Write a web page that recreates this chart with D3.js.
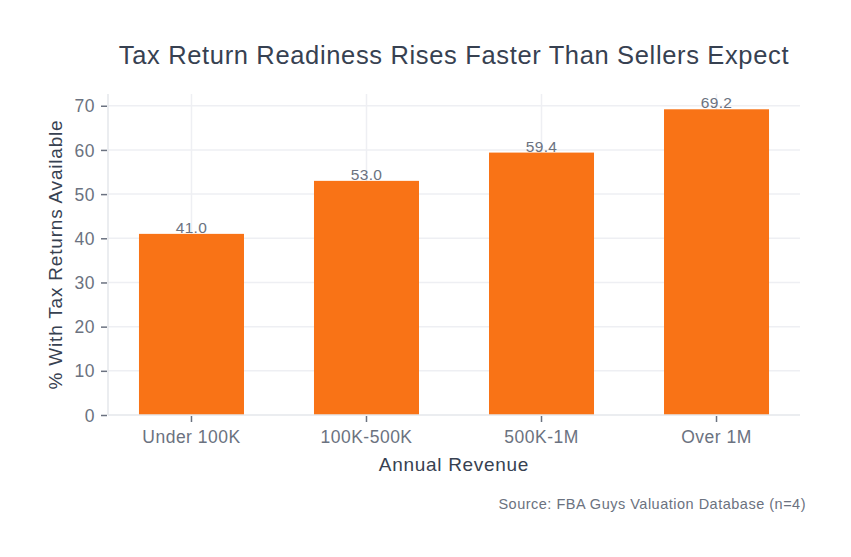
<!DOCTYPE html>
<html>
<head>
<meta charset="utf-8">
<script src="https://cdn.jsdelivr.net/npm/d3@7"></script>
<style>
  html, body { margin: 0; padding: 0; background: #fff; }
  svg { display: block; font-family: "Liberation Sans", Arial, Helvetica, sans-serif; }
</style>
</head>
<body>
<svg id="chart" width="851" height="557"></svg>
<script>
const categories = ["Under 100K", "100K-500K", "500K-1M", "Over 1M"];
const values = [41.0, 53.0, 59.4, 69.2];
const yTicks = [0, 10, 20, 30, 40, 50, 60, 70];
const titleText = "Tax Return Readiness Rises Faster Than Sellers Expect";
const xTitle = "Annual Revenue";
const yTitle = "% With Tax Returns Available";
const sourceText = "Source: FBA Guys Valuation Database (n=4)";

const svg = d3.select("#chart");
const W = 851, H = 557;
const m = { left: 108, right: 51, top: 94, bottom: 142 };
const x0 = m.left, x1 = W - m.right, y0 = H - m.bottom, y1 = m.top;

const x = d3.scaleBand().domain(categories).range([x0, x1]).paddingInner(0.4).paddingOuter(0.177);
const y = d3.scaleLinear().domain([0, d3.max(values) * 1.05]).range([y0, y1]);

const grid = "#eeeff3";
svg.append("g").selectAll("line").data(yTicks.filter(t => t > 0)).join("line")
  .attr("x1", x0).attr("x2", x1)
  .attr("y1", d => y(d)).attr("y2", d => y(d))
  .attr("stroke", grid).attr("stroke-width", 1.5);
svg.append("g").selectAll("line").data(categories).join("line")
  .attr("x1", d => x(d) + x.bandwidth() / 2).attr("x2", d => x(d) + x.bandwidth() / 2)
  .attr("y1", y1).attr("y2", y0)
  .attr("stroke", grid).attr("stroke-width", 1.5);

svg.append("g").selectAll("rect").data(values).join("rect")
  .attr("x", (d, i) => x(categories[i]))
  .attr("width", x.bandwidth())
  .attr("y", d => y(d))
  .attr("height", d => y(0) - y(d))
  .attr("fill", "#f97316");

svg.append("g").selectAll("text").data(values).join("text")
  .attr("x", (d, i) => x(categories[i]) + x.bandwidth() / 2)
  .attr("y", d => y(d) - 1)
  .attr("text-anchor", "middle")
  .attr("font-size", 15.5)
  .attr("letter-spacing", 0.3)
  .attr("fill", "#6b7280")
  .text(d => d.toFixed(1));

const yAxis = svg.append("g").attr("transform", `translate(${x0},0)`)
  .call(d3.axisLeft(y).tickValues(yTicks).tickSize(7).tickPadding(6).tickFormat(d3.format("d")));
yAxis.select(".domain").attr("stroke", "#e5e7eb").attr("stroke-width", 1.5).attr("d", `M0,${y1}V${y0}`);
yAxis.selectAll(".tick line").attr("stroke", "#6b7280").attr("stroke-width", 1.5).attr("x1", -1);
yAxis.selectAll(".tick text").attr("font-size", 17.5).attr("letter-spacing", 0.5).attr("fill", "#6b7280")
  .attr("font-family", "Liberation Sans, Arial, sans-serif").attr("dy", "0.35em");

const xAxis = svg.append("g").attr("transform", `translate(0,${y0})`)
  .call(d3.axisBottom(x).tickSize(7).tickPadding(9));
xAxis.select(".domain").attr("stroke", "#e5e7eb").attr("stroke-width", 1.5).attr("d", `M${x0},0H${x1}`);
xAxis.selectAll(".tick line").attr("stroke", "#6b7280").attr("stroke-width", 1.5).attr("y1", 1);
xAxis.selectAll(".tick text").attr("font-size", 17.5).attr("letter-spacing", 0.5).attr("fill", "#6b7280")
  .attr("font-family", "Liberation Sans, Arial, sans-serif");

svg.append("text").attr("x", (x0 + x1) / 2).attr("y", 63.5)
  .attr("text-anchor", "middle").attr("font-size", 25.5).attr("letter-spacing", 0.65).attr("fill", "#374151")
  .text(titleText);
svg.append("text").attr("x", (x0 + x1) / 2).attr("y", 471)
  .attr("text-anchor", "middle").attr("font-size", 19).attr("letter-spacing", 0.7).attr("fill", "#374151")
  .text(xTitle);
svg.append("text").attr("transform", `translate(62,${(y0 + y1) / 2}) rotate(-90)`)
  .attr("text-anchor", "middle").attr("font-size", 19).attr("letter-spacing", 0.8).attr("fill", "#374151")
  .text(yTitle);
svg.append("text").attr("x", 806).attr("y", 509)
  .attr("text-anchor", "end").attr("font-size", 14.5).attr("letter-spacing", 0.5).attr("fill", "#6b7280")
  .text(sourceText);
</script>
</body>
</html>
